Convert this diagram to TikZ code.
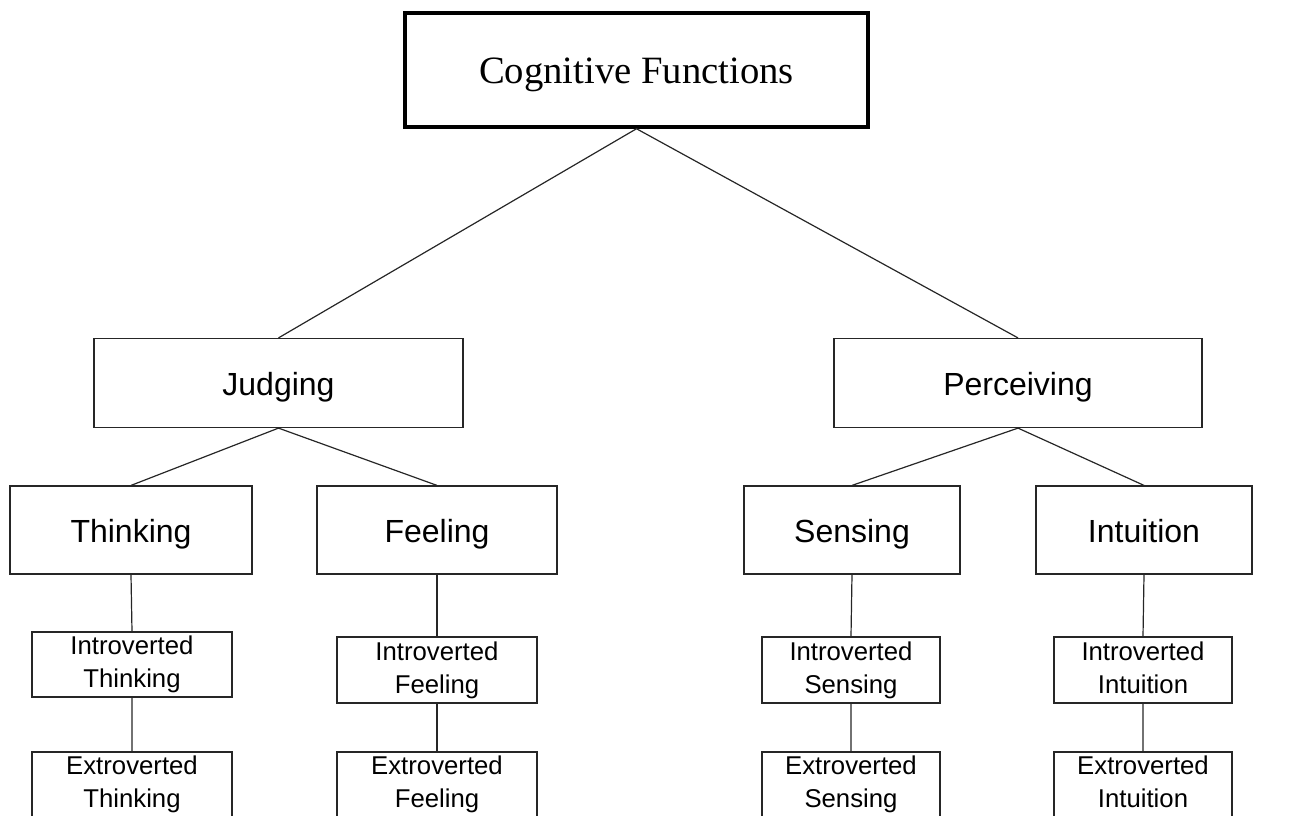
\documentclass[tikz,border=0pt]{standalone}
\usepackage{fontspec}
\setmainfont{Liberation Serif}
\setsansfont{Liberation Sans}

\begin{document}
\begin{tikzpicture}[x=0.75pt, y=-0.75pt,
  every node/.style={draw=black!85, inner sep=0pt, align=center},
  sz/.style 2 args={minimum width=#1*0.75pt, minimum height=#2*0.75pt},
  topbox/.style={draw=black, line width=2.6pt, text height=20pt, text depth=0pt,
    font=\fontsize{29}{35}\selectfont},
  midbox/.style={line width=0.9pt, text height=19pt, text depth=0pt,
    font=\sffamily\fontsize{24}{29}\selectfont},
  leafbox/.style={line width=0.9pt, execute at end node={\vphantom{g}},
    font=\sffamily\fontsize{19.3}{24.7}\selectfont}]
  \clip (0,0) rectangle (1314,815);

  \node [topbox, sz={463}{114}] (CF) at (636.5,70) {Cognitive Functions};

  \node [midbox, sz={369}{89}] (J) at (278.5,383) {Judging};
  \node [midbox, sz={368}{89}] (P) at (1018,383) {Perceiving};

  \node [midbox, sz={242}{88}] (T) at (131,530) {Thinking};
  \node [midbox, sz={240}{88}] (F) at (437,530) {Feeling};
  \node [midbox, sz={216}{88}] (S) at (852,530) {Sensing};
  \node [midbox, sz={216}{88}] (N) at (1144,530) {Intuition};

  \node [leafbox, sz={200}{65}] (IT) at (132,664.5) {Introverted\\Thinking};
  \node [leafbox, sz={200}{65}] (ET) at (132,784.5) {Extroverted\\Thinking};
  \node [leafbox, sz={200}{66}] (IF) at (437,670) {Introverted\\Feeling};
  \node [leafbox, sz={200}{65}] (EF) at (437,784.5) {Extroverted\\Feeling};
  \node [leafbox, sz={178}{66}] (IS) at (851,670) {Introverted\\Sensing};
  \node [leafbox, sz={178}{65}] (ES) at (851,784.5) {Extroverted\\Sensing};
  \node [leafbox, sz={178}{66}] (IN) at (1143,670) {Introverted\\Intuition};
  \node [leafbox, sz={178}{65}] (EN) at (1143,784.5) {Extroverted\\Intuition};

  \draw [line width=0.9pt, black!85] (J.north) -- (CF.south) -- (P.north);
  \draw [line width=0.9pt, black!85] (T.north) -- (J.south) -- (F.north);
  \draw [line width=0.9pt, black!85] (S.north) -- (P.south) -- (N.north);
  \draw [line width=0.9pt, black!85] (T.south) -- (IT.north) (IT.south) -- (ET.north);
  \draw [line width=0.9pt, black!85] (F.south) -- (IF.north) (IF.south) -- (EF.north);
  \draw [line width=0.9pt, black!85] (S.south) -- (IS.north) (IS.south) -- (ES.north);
  \draw [line width=0.9pt, black!85] (N.south) -- (IN.north) (IN.south) -- (EN.north);
\end{tikzpicture}
\end{document}
